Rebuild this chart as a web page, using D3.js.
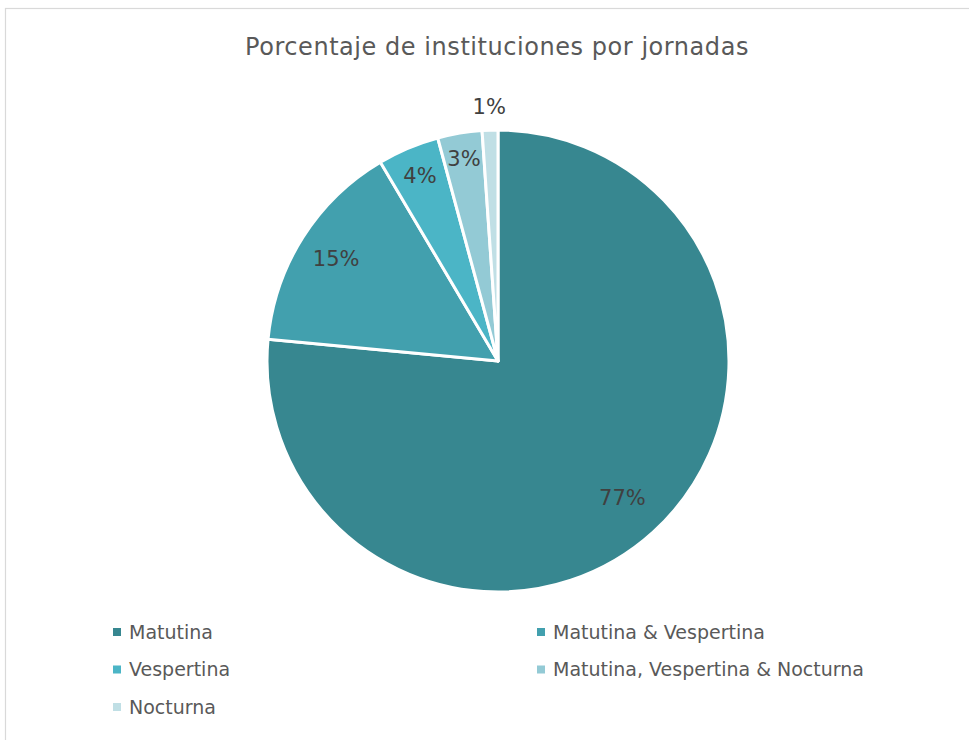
<!DOCTYPE html>
<html>
<head>
<meta charset="utf-8">
<script src="https://cdn.jsdelivr.net/npm/d3@7"></script>
<style>
  body { margin: 0; background: #fff; }
  text { font-family: "DejaVu Sans", sans-serif; }
</style>
</head>
<body>
<div id="chart"></div>
<script>
let categories = [
  "Matutina",
  "Matutina & Vespertina",
  "Vespertina",
  "Matutina, Vespertina & Nocturna",
  "Nocturna"
];
let values = [76.5, 15.0, 4.3, 3.1, 1.1];
let colors = ["#378790", "#42a0ae", "#4bb5c6", "#93cad5", "#c0dfe5"];
// where each label sits, as a share of the radius
let labelRadius = [0.80, 0.83, 0.87, 0.89, 1.10];

let title = "Porcentaje de instituciones por jornadas";

let svgWidth = 969;
let svgHeight = 740;

let cx = 498;
let cy = 361;
let radius = 231;

let svg = d3.select("#chart")
  .append("svg")
  .attr("width", svgWidth)
  .attr("height", svgHeight);

// chart area border
svg.append("rect")
  .attr("x", 5.5)
  .attr("y", 8.5)
  .attr("width", svgWidth + 10)
  .attr("height", svgHeight + 10)
  .attr("fill", "#fff")
  .attr("stroke", "#d9d9d9")
  .attr("stroke-width", 1.2);

svg.append("text")
  .attr("x", 497)
  .attr("y", 55)
  .attr("text-anchor", "middle")
  .attr("fill", "#595959")
  .style("font-size", "24px")
  .style("letter-spacing", "0.55px")
  .text(title);

let data = categories.map((c, i) => ({ name: c, value: values[i], color: colors[i], lr: labelRadius[i] }));

let pie = d3.pie()
  .sort(null)
  .value(d => d.value);

let arc = d3.arc()
  .innerRadius(0)
  .outerRadius(radius);

let arcs = pie(data);

let g = svg.append("g")
  .attr("transform", "translate(" + cx + ", " + cy + ")");

g.selectAll(".slice")
  .data(arcs)
  .enter()
  .append("path")
    .attr("class", "slice")
    .attr("d", arc)
    .attr("fill", d => d.data.color)
    .attr("stroke", "#fff")
    .attr("stroke-width", 3)
    .attr("stroke-linejoin", "round");

g.selectAll(".label")
  .data(arcs)
  .enter()
  .append("text")
    .attr("class", "label")
    .attr("transform", d => {
      let a = (d.startAngle + d.endAngle) / 2;
      let r = radius * d.data.lr;
      return "translate(" + (Math.sin(a) * r) + ", " + (-Math.cos(a) * r) + ")";
    })
    .attr("text-anchor", "middle")
    .attr("dy", "0.35em")
    .attr("fill", "#404040")
    .style("font-size", "21px")
    .text(d => Math.round(d.data.value) + "%");

// legend, two columns
let legend = svg.append("g");

let items = legend.selectAll(".item")
  .data(data)
  .enter()
  .append("g")
  .attr("class", "item")
  .attr("transform", (d, i) => "translate(" + (i % 2 === 0 ? 113 : 537) + ", " + (632 + Math.floor(i / 2) * 37.5) + ")");

items.append("rect")
  .attr("x", 0)
  .attr("y", -4)
  .attr("width", 8)
  .attr("height", 8)
  .attr("fill", d => d.color);

items.append("text")
  .attr("x", 16)
  .attr("dy", "0.36em")
  .attr("fill", "#595959")
  .style("font-size", "19px")
  .text(d => d.name);
</script>
</body>
</html>
